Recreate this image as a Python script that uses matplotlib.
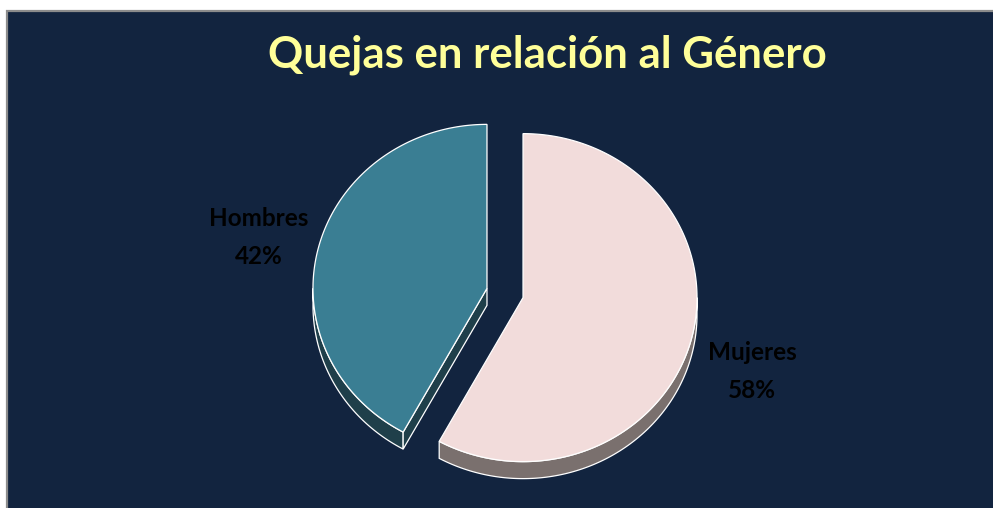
import numpy as np
import matplotlib
matplotlib.use("Agg")
import matplotlib.pyplot as plt
from matplotlib.patches import Polygon, Rectangle

# ---- data ----
categories = ["Mujeres", "Hombres"]          # drawing order: clockwise from 12 o'clock
values = [58, 42]
pct_texts = ["58%", "42%"]
title = "Quejas en relación al Género"

# ---- style ----
top_colors = ["#F2DCDB", "#3A7E93"]
side_colors = ["#7A706E", "#1F3F4A"]
bg = "#12243F"
RX, RY = 174, 164          # ellipse radii in pixels
DEPTH = 17                 # extrusion depth in pixels
CX, CY = 505, 293          # pie centre
EXPLODE = 18.6             # explode distance in pixels

fig = plt.figure(figsize=(9.93, 5.08), dpi=100)
ax = fig.add_axes([0, 0, 1, 1])
ax.set_xlim(0, 993)
ax.set_ylim(508, 0)
ax.axis("off")

ax.add_patch(Rectangle((7, 11), 1000, 510, facecolor=bg, edgecolor="#8C8C8C", lw=1.6, zorder=0))


def pt(cx, cy, th):
    return cx + RX * np.sin(th), cy - RY * np.cos(th)


total = float(sum(values))
angles = np.cumsum([0] + values) / total * 2 * np.pi
slices = []
for i, v in enumerate(values):
    a0, a1 = angles[i], angles[i + 1]
    mid = (a0 + a1) / 2
    cx = CX + EXPLODE * np.sin(mid)
    cy = CY - EXPLODE * np.cos(mid)
    slices.append((a0, a1, cx, cy))

# side faces
for i, (a0, a1, cx, cy) in enumerate(slices):
    lo, hi = max(a0, np.pi / 2), min(a1, 3 * np.pi / 2)
    if hi > lo:
        th = np.linspace(lo, hi, 200)
        xs, ys = pt(cx, cy, th)
        poly = np.vstack([np.column_stack([xs, ys]),
                          np.column_stack([xs[::-1], ys[::-1] + DEPTH])])
        ax.add_patch(Polygon(poly, closed=True, facecolor=side_colors[i],
                             edgecolor="white", lw=0.9, zorder=2))
    if np.pi < a0 < 2 * np.pi:
        ex, ey = pt(cx, cy, a0)
        poly = [(cx, cy), (ex, ey), (ex, ey + DEPTH), (cx, cy + DEPTH)]
        ax.add_patch(Polygon(poly, closed=True, facecolor=side_colors[i],
                             edgecolor="white", lw=0.9, zorder=2))

# top faces
for i, (a0, a1, cx, cy) in enumerate(slices):
    th = np.linspace(a0, a1, 300)
    xs, ys = pt(cx, cy, th)
    poly = np.vstack([[cx, cy], np.column_stack([xs, ys])])
    ax.add_patch(Polygon(poly, closed=True, facecolor=top_colors[i],
                         edgecolor="white", lw=0.9, zorder=3))

# labels
label_pos = [(752, 353, 390), (259, 218, 256)]
for (x, y1, y2), name, pct in zip(label_pos, categories, pct_texts):
    for y, t in ((y1, name), (y2, pct)):
        ax.text(x, y, t, ha="center", va="center", fontsize=17.5, fontweight="bold",
                family="Lato", color="black", zorder=4)

ax.text(547, 55, title, ha="center", va="center", fontsize=31.5, fontweight="bold",
        family="Lato", color="#FFFF99", zorder=4)

fig.savefig("out.png", dpi=100, facecolor="white")
